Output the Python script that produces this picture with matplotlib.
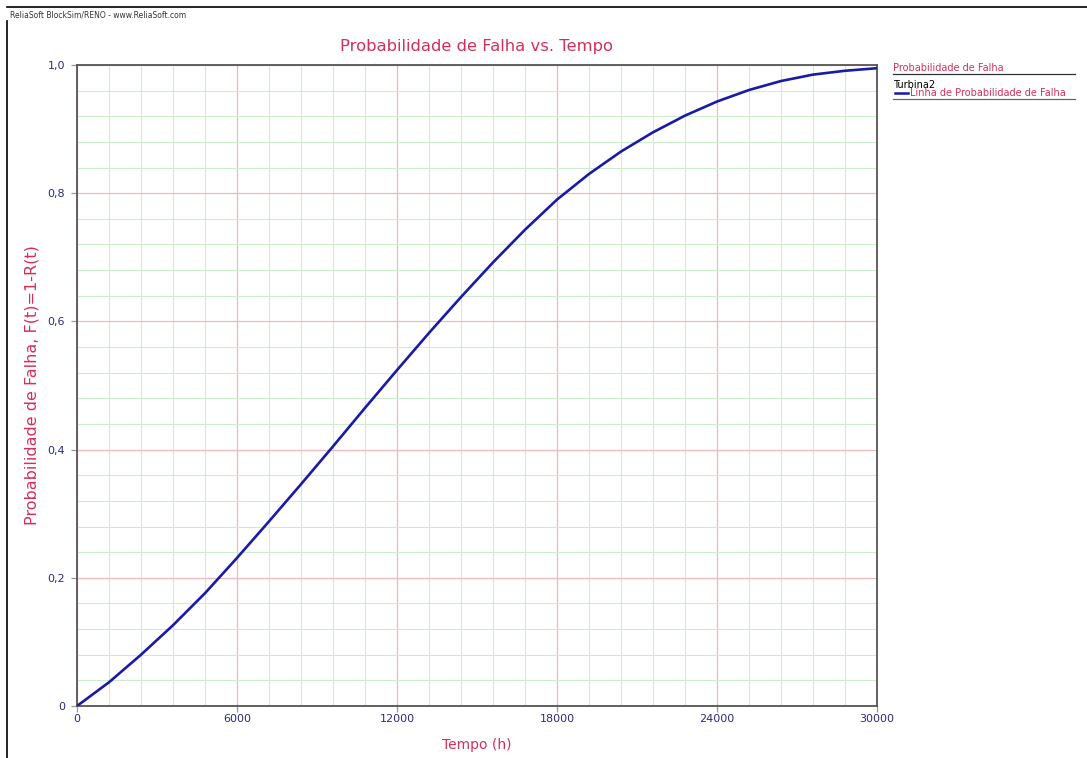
"""Probabilidade de Falha vs. Tempo (BlockSim style)."""

import matplotlib

matplotlib.use("Agg")
import matplotlib.pyplot as plt
from matplotlib.lines import Line2D
from matplotlib.ticker import FixedLocator, MultipleLocator

# data
tempo_h = [0, 1200, 2400, 3600, 4800, 6000, 7200, 8400, 9600, 10800,
           12000, 13200, 14400, 15600, 16800, 18000, 19200, 20400, 21600,
           22800, 24000, 25200, 26400, 27600, 28800, 30000]
prob_falha = [0.0, 0.037, 0.080, 0.126, 0.176, 0.231, 0.288, 0.346, 0.405,
              0.465, 0.524, 0.582, 0.638, 0.692, 0.743, 0.790, 0.830, 0.865,
              0.895, 0.921, 0.943, 0.961, 0.975, 0.985, 0.991, 0.995]

x_ticks = [0, 6000, 12000, 18000, 24000, 30000]
y_ticks = [0, 0.2, 0.4, 0.6, 0.8, 1.0]
y_tick_labels = ["0", "0,2", "0,4", "0,6", "0,8", "1,0"]

CRIMSON = "#d2305a"
NAVY = "#2b2b7a"
MAJOR = "#ecbcbc"
MINOR = "#cdeecd"
CURVE = "#1a1aa6"

W, H = 1087, 758
fig = plt.figure(figsize=(W / 100, H / 100), dpi=100)
ax = fig.add_axes([77 / W, 1 - 706 / H, 800 / W, 641 / H])

ax.plot(tempo_h, prob_falha, color=CURVE, lw=1.9, zorder=3)

ax.set_xlim(0, 30000)
ax.set_ylim(0, 1.0)
ax.xaxis.set_major_locator(FixedLocator(x_ticks))
ax.yaxis.set_major_locator(FixedLocator(y_ticks))
ax.set_xticklabels([str(v) for v in x_ticks])
ax.set_yticklabels(y_tick_labels)
ax.xaxis.set_minor_locator(MultipleLocator(1200))
ax.yaxis.set_minor_locator(MultipleLocator(0.04))

ax.grid(which="minor", color=MINOR, lw=0.8, zorder=0)
ax.grid(which="major", color=MAJOR, lw=0.9, zorder=1)
ax.set_axisbelow(True)

ax.tick_params(which="major", length=4.5, width=0.9, color="#999999",
               labelcolor=NAVY, labelsize=8)
ax.tick_params(axis="y", pad=4)
ax.tick_params(axis="x", pad=1.5)
ax.tick_params(which="minor", length=0)
for s in ax.spines.values():
    s.set_color("#555555")
    s.set_linewidth(1.3)

ax.set_xlabel("Tempo (h)", color=CRIMSON, fontsize=10, labelpad=10)
ax.set_ylabel("Probabilidade de Falha, F(t)=1-R(t)", color=CRIMSON,
              fontsize=11.5, labelpad=6)
ax.set_title("Probabilidade de Falha vs. Tempo", color=CRIMSON,
             fontsize=11.8, pad=10)

# header + frame lines
fig.text(10 / W, 1 - 15 / H, "ReliaSoft BlockSim/RENO - www.ReliaSoft.com",
         fontsize=5.5, color="#333333", va="center", ha="left")
fig.add_artist(Line2D([7 / W, 1], [1 - 7 / H] * 2, color="black", lw=1.2))
fig.add_artist(Line2D([7 / W] * 2, [1 - 21 / H, 0], color="black", lw=1.2))

# legend block on the right
fig.text(893 / W, 1 - 68 / H, "Probabilidade de Falha", fontsize=7,
         color=CRIMSON, va="center", ha="left")
fig.add_artist(Line2D([893 / W, 1075 / W], [1 - 74 / H] * 2,
                      color="#333333", lw=0.9))
fig.text(893 / W, 1 - 85 / H, "Turbina2", fontsize=7, color="black",
         va="center", ha="left")
fig.add_artist(Line2D([895 / W, 908 / W], [1 - 93 / H] * 2, color=CURVE, lw=1.8))
fig.text(910 / W, 1 - 93 / H, "Linha de Probabilidade de Falha", fontsize=7,
         color=CRIMSON, va="center", ha="left")
fig.add_artist(Line2D([893 / W, 1075 / W], [1 - 99 / H] * 2,
                      color="#666666", lw=0.9))

fig.savefig("out.png", dpi=100)
plt.close(fig)
